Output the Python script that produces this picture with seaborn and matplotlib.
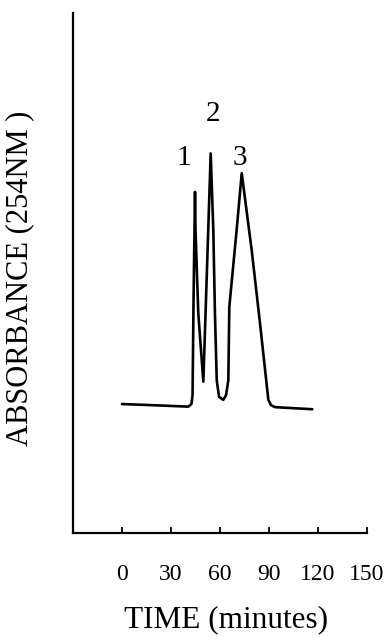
import matplotlib
matplotlib.use("Agg")
import matplotlib.pyplot as plt
import seaborn as sns
import pandas as pd

# Chromatogram trace (time in minutes, absorbance in arbitrary units)
time_min = [0.0, 17.1, 40.6, 42.5, 43.2, 43.8, 44.7, 45.0, 46.7, 49.8,
            52.8, 54.3, 55.9, 56.9, 58.0, 59.4, 62.0, 63.7, 65.1, 65.7,
            70.2, 73.3, 79.4, 84.5, 89.6, 91.2, 93.7, 116.5]
absorbance = [0.248, 0.246, 0.243, 0.248, 0.265, 0.448, 0.656, 0.583, 0.423, 0.291,
              0.583, 0.730, 0.583, 0.423, 0.294, 0.262, 0.256, 0.265, 0.294, 0.435,
              0.583, 0.692, 0.544, 0.403, 0.256, 0.246, 0.242, 0.238]

peak_labels = ["1", "2", "3"]
peak_label_t = [38.0, 55.7, 72.2]
peak_label_a = [0.721, 0.806, 0.721]

xticks = [0, 30, 60, 90, 120, 150]

sns.set_style("ticks")
plt.rcParams['font.family'] = ['Liberation Serif', 'DejaVu Serif']
plt.rcParams['text.color'] = 'black'
plt.rcParams['axes.labelcolor'] = 'black'

fig = plt.figure(figsize=(3.87, 6.37), dpi=100)
ax = fig.add_axes([73/387, 1 - 533/637, 294/387, 520/637])

df = pd.DataFrame({"time": time_min, "abs": absorbance})
sns.lineplot(data=df, x="time", y="abs", sort=False, estimator=None,
             color="black", linewidth=1.9, ax=ax)

for lab, t, a in zip(peak_labels, peak_label_t, peak_label_a):
    ax.text(t, a, lab, ha="center", va="center", fontsize=21, color="black")

ax.set_xlim(-30, 150)
ax.set_ylim(0, 1)
ax.set_xticks(xticks)
ax.set_xticklabels([str(v) for v in xticks], fontsize=17)
ax.set_yticks([])
ax.tick_params(axis="x", direction="in", length=4, width=1.3, pad=22,
               colors="black", labelcolor="black")

ax.set_xlabel("TIME (minutes)", fontsize=22.5, va="center", color="black")
ax.set_ylabel("ABSORBANCE (254NM )", fontsize=22, va="center", color="black")
ax.xaxis.set_label_coords(0.522, -0.166)
ax.yaxis.set_label_coords(-0.18, 0.49)

sns.despine(ax=ax)
for s in ["left", "bottom"]:
    ax.spines[s].set_linewidth(1.6)
    ax.spines[s].set_color("black")

fig.savefig("out.png", dpi=100)
